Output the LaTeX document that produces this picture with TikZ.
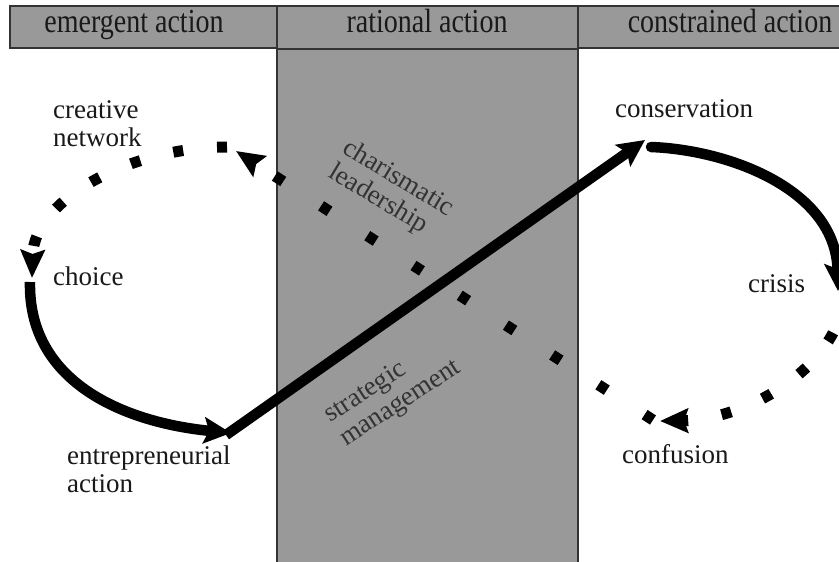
\documentclass[tikz,border=0pt]{standalone}
\usepackage{fontspec}
\setmainfont{Liberation Serif}
\usetikzlibrary{arrows.meta}
\definecolor{panelgray}{HTML}{999999}
\begin{document}
\begin{tikzpicture}[x=1pt,y=-1pt,
  panel/.style={fill=panelgray,draw=black!80,line width=1.2pt},
  head/.style={anchor=base,inner sep=0pt,text=black!90,yscale=1.2,font=\fontsize{28}{30}\selectfont},
  lbl/.style={anchor=base west,inner sep=0pt,align=left,text=black!90,font=\fontsize{27}{28}\selectfont},
  rot/.style={inner sep=0pt,align=left,text=black!80,font=\fontsize{27}{28}\selectfont},
  solidflow/.style={line width=10.5pt,-{Stealth[length=27pt,width=26pt,inset=5pt]}},
  dotflow/.style={line width=11pt,dash pattern=on 10pt off 34pt,-{Stealth[length=28pt,width=24pt,inset=4pt]}},
]
\fill[white] (0,0) rectangle (839,562);
\useasboundingbox (0,0) rectangle (839,562);

% middle column and the three header panels
\draw[panel] (277,49) rectangle (578,580);
\draw[panel] (10,6) rectangle (277,48);
\draw[panel] (578,6) rectangle (900,48);
\draw[panel] (277,6) rectangle (578,49);
\node[head] (hEmergent) at (134,32) {emergent action};
\node[head] (hRational) at (427,32) {rational action};
\node[head] (hConstrained) at (730,32) {constrained action};

% stage labels (base anchor sits on the last line)
\node[lbl] (creative) at (53,146) {creative\\network};
\node[lbl] (choice) at (53,285) {choice};
\node[lbl] (entre) at (67,492) {entrepreneurial\\action};
\node[lbl] (conserv) at (615,117) {conservation};
\node[lbl] (crisis) at (748,292) {crisis};
\node[lbl] (confus) at (622,463) {confusion};
\node[rot,rotate=-31] (charis) at (391,191) {charismatic\\leadership};
\node[rot,rotate=33] (strat) at (393,392) {strategic\\management};

% end points of the loop segments
\coordinate (choiceIn) at (32,278);
\coordinate (choiceOut) at (30,282);
\coordinate (entreIn) at (231,433);
\coordinate (entreOut) at (226,435);
\coordinate (conservIn) at (645,140);
\coordinate (conservOut) at (651,147);
\coordinate (crisisIn) at (838,291);
\coordinate (crisisOut) at (846,291);
\coordinate (confusIn) at (660,421);
\coordinate (confusOut) at (653,420);
\coordinate (creativeIn) at (236,151);
\coordinate (creativeOut) at (227,147);

% solid part of the loop
\draw[solidflow] (choiceOut) .. controls (28,380) and (120,422) .. (entreIn);
\draw[solidflow] (entreOut) -- (conservIn);
\draw[solidflow,line cap=round] (conservOut) .. controls (730,150) and (836,190) .. (crisisIn);

% dotted part of the loop
\draw[dotflow] (crisisOut) .. controls (838,372) and (742,420) .. (confusIn);
\draw[dotflow,dash pattern=on 10pt off 45pt] (confusOut) -- (creativeIn);
\draw[dotflow] (creativeOut) .. controls (130,147) and (34,200) .. (choiceIn);
\end{tikzpicture}
\end{document}
